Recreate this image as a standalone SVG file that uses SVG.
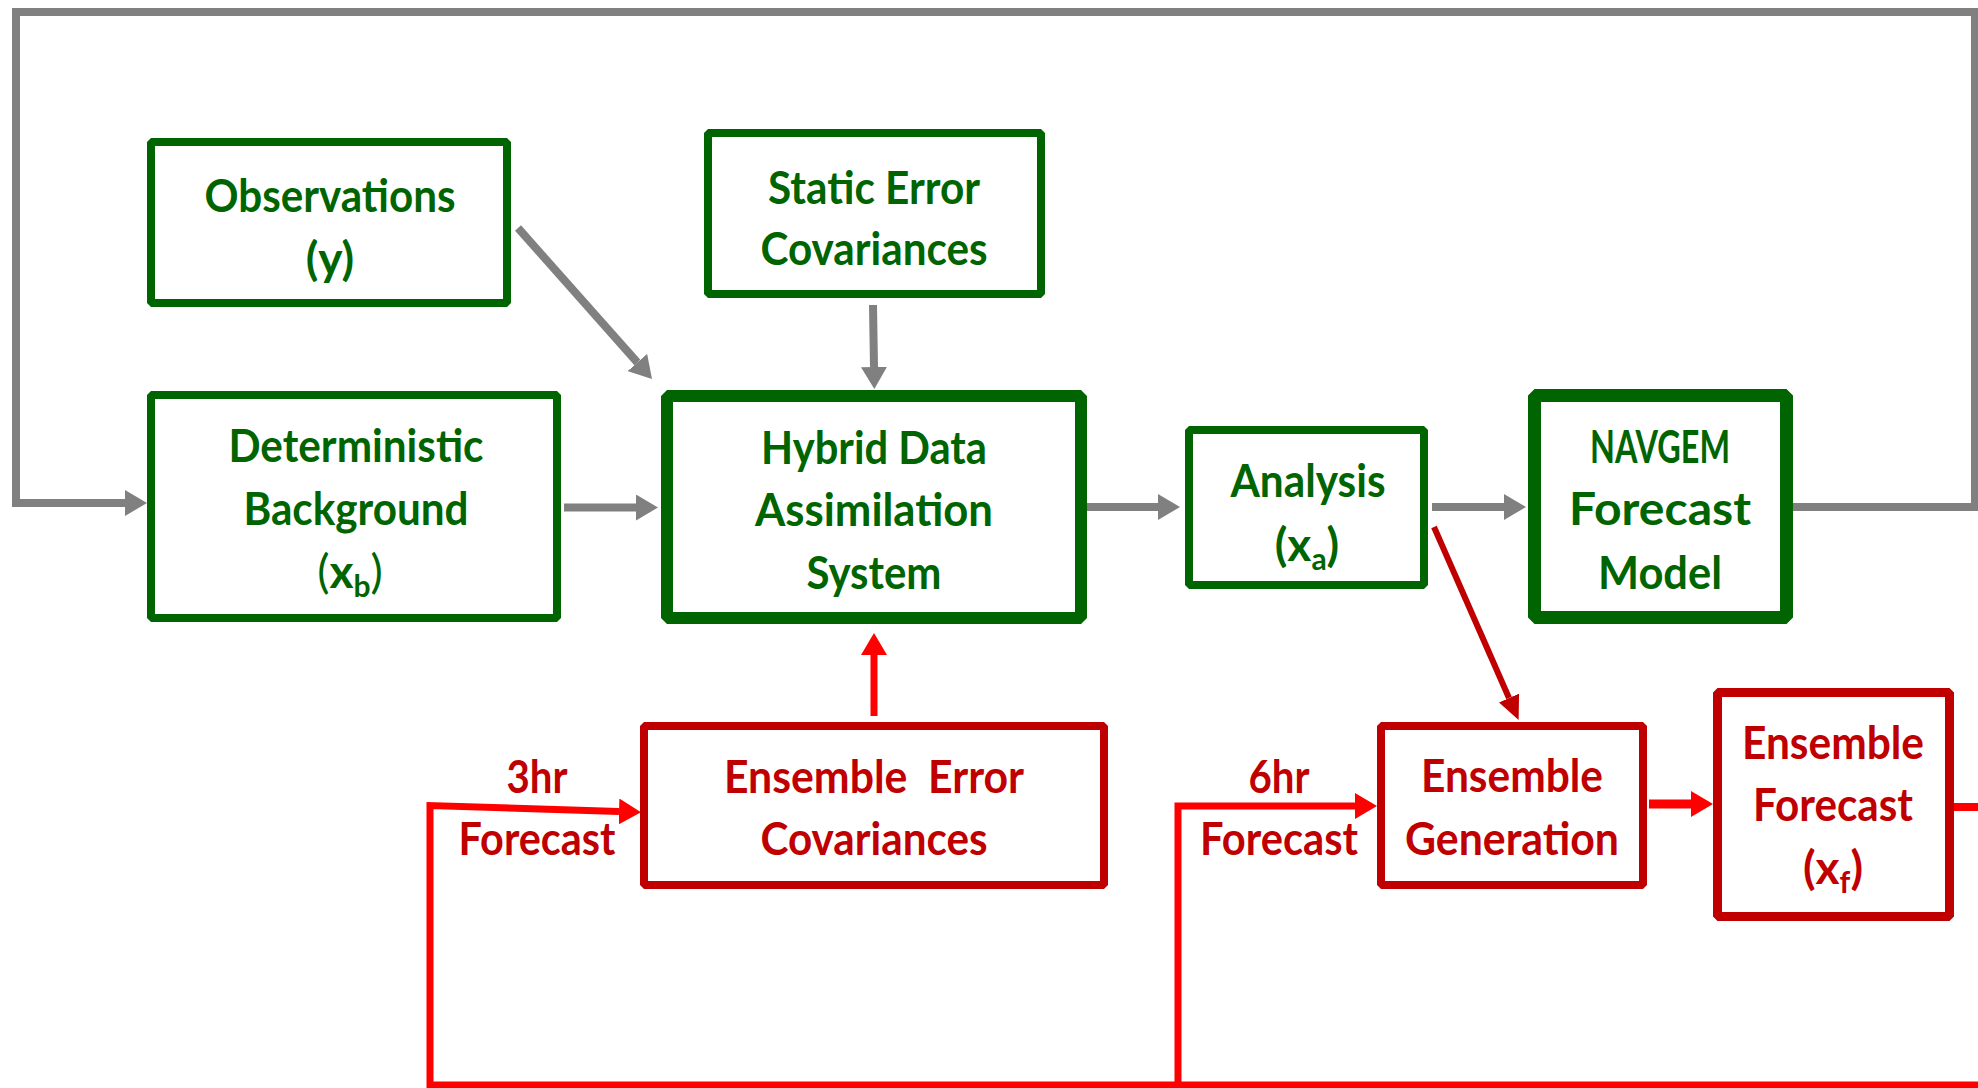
<svg xmlns="http://www.w3.org/2000/svg" width="1978" height="1088" viewBox="0 0 1978 1088">
  <defs>
    <style>
      .box { fill: #ffffff; stroke-linejoin: bevel; }
      .bg { stroke: #006400; }
      .br { stroke: #C00000; }
      .t { font-family: Lato, "Open Sans", "Liberation Sans", sans-serif; font-weight: 700; font-size: 46px; text-anchor: middle; }
      .tg { fill: #006400; }
      .tr { fill: #C00000; }
      .sub { font-size: 30px; }
      .thin { font-weight: 400; }
      .gray { fill: none; stroke: #808080; stroke-width: 8; }
      .dred { fill: none; stroke: #C00000; stroke-width: 6; }
      .red { fill: none; stroke: #FF0000; stroke-width: 7; }
    </style>
    <marker id="ahGray" markerUnits="userSpaceOnUse" viewBox="0 -13 22 26" refX="0" refY="0" markerWidth="22" markerHeight="26" orient="auto">
      <path d="M0,-13 L22,0 L0,13 z" fill="#808080"/>
    </marker>
    <marker id="ahDred" markerUnits="userSpaceOnUse" viewBox="0 -11 24 22" refX="0" refY="0" markerWidth="24" markerHeight="22" orient="auto">
      <path d="M0,-11 L24,0 L0,11 z" fill="#C00000"/>
    </marker>
    <marker id="ahRed" markerUnits="userSpaceOnUse" viewBox="0 -13 22 26" refX="0" refY="0" markerWidth="22" markerHeight="26" orient="auto">
      <path d="M0,-13 L22,0 L0,13 z" fill="#FF0000"/>
    </marker>
  </defs>

  <rect x="0" y="0" width="1978" height="1088" fill="#ffffff"/>

  <!-- connectors -->
  <g id="connectors">
    <!-- forecast loop back to the background -->
    <path class="gray" d="M1793,507 H1975 V12 H16 V503 H125" marker-end="url(#ahGray)"/>
    <path class="gray" d="M564,507.5 H636" marker-end="url(#ahGray)"/>
    <path class="gray" d="M518,228 L637.4,362.5" marker-end="url(#ahGray)"/>
    <path class="gray" d="M873,305 L874,367" marker-end="url(#ahGray)"/>
    <path class="gray" d="M1087,507 H1158" marker-end="url(#ahGray)"/>
    <path class="gray" d="M1432,507 H1504" marker-end="url(#ahGray)"/>

    <!-- analysis to ensemble generation -->
    <path class="dred" d="M1434,527 L1509,698" marker-end="url(#ahDred)"/>

    <!-- ensemble paths -->
    <path class="red" d="M874,716 V655" marker-end="url(#ahRed)"/>
    <path class="red" d="M1978,1085 H430 V805.5 L619,811.5" marker-end="url(#ahRed)"/>
    <path class="red" d="M1178,1085 V806 H1355" marker-end="url(#ahRed)"/>
    <path class="red" style="stroke-width:9" d="M1649,804 H1691" marker-end="url(#ahRed)"/>
    <path class="red" style="stroke-width:8" d="M1954,807 H1978"/>
  </g>

  <!-- nodes -->
  <g id="observations">
    <rect class="box bg" x="151" y="142" width="356" height="161" stroke-width="8"/>
    <text class="t tg" x="330" y="212" textLength="251" lengthAdjust="spacingAndGlyphs">Observations</text>
    <text class="t tg" x="330" y="275">(y)</text>
  </g>

  <g id="static-error">
    <rect class="box bg" x="708" y="133" width="333" height="161" stroke-width="8"/>
    <text class="t tg" x="874" y="204" textLength="212" lengthAdjust="spacingAndGlyphs">Static Error</text>
    <text class="t tg" x="874" y="265" textLength="227" lengthAdjust="spacingAndGlyphs">Covariances</text>
  </g>

  <g id="background">
    <rect class="box bg" x="151" y="395" width="406" height="223" stroke-width="8"/>
    <text class="t tg" x="356" y="462" textLength="255" lengthAdjust="spacingAndGlyphs">Deterministic</text>
    <text class="t tg" x="356" y="525" textLength="225" lengthAdjust="spacingAndGlyphs">Background</text>
    <text class="t tg" x="350" y="588"><tspan class="thin">(</tspan>x<tspan class="sub" dy="9">b</tspan><tspan class="thin" dy="-9">)</tspan></text>
  </g>

  <g id="hybrid-da">
    <rect class="box bg" x="667" y="396" width="414" height="222" stroke-width="12"/>
    <text class="t tg" x="874" y="464" textLength="226" lengthAdjust="spacingAndGlyphs">Hybrid Data</text>
    <text class="t tg" x="874" y="526" textLength="238" lengthAdjust="spacingAndGlyphs">Assimilation</text>
    <text class="t tg" x="874" y="589" textLength="135" lengthAdjust="spacingAndGlyphs">System</text>
  </g>

  <g id="analysis">
    <rect class="box bg" x="1189" y="430" width="235" height="155" stroke-width="8"/>
    <text class="t tg" x="1308" y="497" textLength="155" lengthAdjust="spacingAndGlyphs">Analysis</text>
    <text class="t tg" x="1307" y="561">(x<tspan class="sub" dy="9">a</tspan><tspan dy="-9">)</tspan></text>
  </g>

  <g id="navgem">
    <rect class="box bg" x="1534.5" y="395.5" width="252" height="222" stroke-width="13"/>
    <text class="t tg" x="1660" y="463" textLength="140" lengthAdjust="spacingAndGlyphs">NAVGEM</text>
    <text class="t tg" x="1660" y="525" textLength="182" lengthAdjust="spacingAndGlyphs">Forecast</text>
    <text class="t tg" x="1660" y="589" textLength="124" lengthAdjust="spacingAndGlyphs">Model</text>
  </g>

  <g id="ensemble-error">
    <rect class="box br" x="644" y="726" width="460" height="159" stroke-width="8"/>
    <text class="t tr" x="874" y="793" textLength="300" lengthAdjust="spacingAndGlyphs" xml:space="preserve">Ensemble  Error</text>
    <text class="t tr" x="874" y="855" textLength="227" lengthAdjust="spacingAndGlyphs">Covariances</text>
  </g>

  <g id="ensemble-generation">
    <rect class="box br" x="1381" y="726" width="262" height="159" stroke-width="8"/>
    <text class="t tr" x="1512" y="792" textLength="182" lengthAdjust="spacingAndGlyphs">Ensemble</text>
    <text class="t tr" x="1512" y="855" textLength="214" lengthAdjust="spacingAndGlyphs">Generation</text>
  </g>

  <g id="ensemble-forecast">
    <rect class="box br" x="1717.5" y="692.5" width="232" height="224" stroke-width="9"/>
    <text class="t tr" x="1833" y="759" textLength="182" lengthAdjust="spacingAndGlyphs">Ensemble</text>
    <text class="t tr" x="1833" y="821" textLength="160" lengthAdjust="spacingAndGlyphs">Forecast</text>
    <text class="t tr" x="1833" y="884">(x<tspan class="sub" dy="9">f</tspan><tspan dy="-9">)</tspan></text>
  </g>

  <!-- cycle labels -->
  <g id="label-3hr">
    <text class="t tr" x="537" y="793" textLength="61" lengthAdjust="spacingAndGlyphs">3hr</text>
    <text class="t tr" x="537" y="855" textLength="157" lengthAdjust="spacingAndGlyphs">Forecast</text>
  </g>
  <g id="label-6hr">
    <text class="t tr" x="1279" y="793" textLength="61" lengthAdjust="spacingAndGlyphs">6hr</text>
    <text class="t tr" x="1279" y="855" textLength="158" lengthAdjust="spacingAndGlyphs">Forecast</text>
  </g>
</svg>
